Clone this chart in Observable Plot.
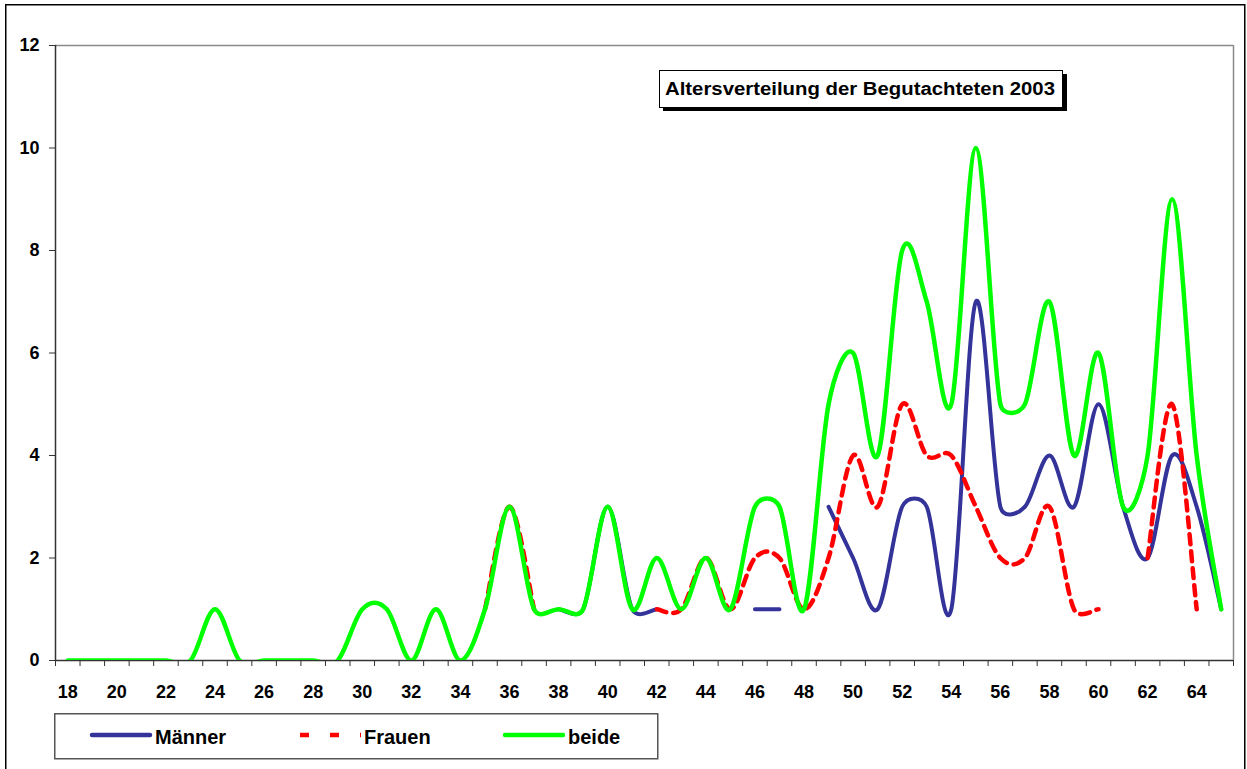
<!DOCTYPE html>
<html>
<head>
<meta charset="utf-8">
<script src="https://cdn.jsdelivr.net/npm/d3@7"></script>
<script src="https://cdn.jsdelivr.net/npm/@observablehq/plot@0.6"></script>
<style>
html,body{margin:0;padding:0;overflow:hidden;background:#fff;width:1247px;height:769px;}
#wrap{position:relative;width:1247px;height:769px;font-family:"Liberation Sans",Arial,sans-serif;}
#chart{position:absolute;left:0;top:0;}
#overlay{position:absolute;left:0;top:0;pointer-events:none;}
</style>
</head>
<body>
<div id="wrap">
  <div id="chart"></div>
  <svg id="overlay" width="1247" height="769" font-family="'Liberation Sans',Arial,sans-serif" font-weight="bold">
    <rect x="5.75" y="4.75" width="1239" height="800" fill="none" stroke="#000" stroke-width="1.5"/>
    <rect x="663" y="74" width="404" height="37" fill="#000"/>
    <rect x="659.5" y="70.5" width="403" height="37" fill="#fff" stroke="#000" stroke-width="1"/>
    <text id="titleText" x="665" y="95" font-size="18" textLength="390" lengthAdjust="spacingAndGlyphs"></text>
    <rect x="54.75" y="713.75" width="603" height="45" fill="#fff" stroke="#555" stroke-width="1.5"/>
    <g id="legendItems"></g>
  </svg>
</div>
<script>
// ---- data ----
const title = "Altersverteilung der Begutachteten 2003";
const ages = [18,19,20,21,22,23,24,25,26,27,28,29,30,31,32,33,34,35,36,37,38,39,40,41,42,43,44,45,46,47,48,49,50,51,52,53,54,55,56,57,58,59,60,61,62,63,64,65];
const maenner = [null,null,null,null,null,null,null,null,null,null,null,null,null,null,null,null,null,null,null,null,1,1,3,1,1,null,null,null,1,1,null,3,2,1,3,3,1,7,3,3,4,3,5,3,2,4,3,1];
const frauen  = [null,null,null,null,null,null,null,null,null,null,null,null,null,null,null,null,null,1,3,1,null,null,null,null,1,1,2,1,2,2,1,2,4,3,5,4,4,3,2,2,3,1,1,null,2,5,1,null];
const beide   = [0,0,0,0,0,0,1,0,0,0,0,0,1,1,0,1,0,1,3,1,1,1,3,1,2,1,2,1,3,3,1,5,6,4,8,7,5,10,5,5,7,4,6,3,4,9,4,1];
const yTicks = [0,2,4,6,8,10,12];
const xLabels = [18,20,22,24,26,28,30,32,34,36,38,40,42,44,46,48,50,52,54,56,58,60,62,64];
const seriesNames = ["Männer","Frauen","beide"];
const seriesColors = ["#333399","#ff0000","#00ff00"];

const data = ages.map((a,i)=>({age:a, m:maenner[i], f:frauen[i], b:beide[i]}));
const boundaries = d3.range(ages[0]-0.5, ages[ages.length-1]+1, 1);

// Spreadsheet-style smoothed line (Bezier with limited control arms), as a d3 curve factory
function arm(pa, pb, d12) {
  const dx = pb[0]-pa[0], dy = pb[1]-pa[1], d = Math.hypot(dx, dy);
  if (!d) return [0, 0];
  const L = Math.min(d/6, d12/2);
  return [dx/d*L, dy/d*L];
}
function SmoothCurve(context) { this._context = context; }
SmoothCurve.prototype = {
  areaStart() {}, areaEnd() {},
  lineStart() { this._pts = []; },
  point(x, y) { this._pts.push([+x, +y]); },
  lineEnd() {
    const p = this._pts, n = p.length, c = this._context;
    if (!n) return;
    c.moveTo(p[0][0], p[0][1]);
    for (let i = 0; i < n-1; i++) {
      const p0 = p[Math.max(i-1,0)], p1 = p[i], p2 = p[i+1], p3 = p[Math.min(i+2,n-1)];
      const d12 = Math.hypot(p2[0]-p1[0], p2[1]-p1[1]);
      const a = arm(p0, p2, d12), b = arm(p1, p3, d12);
      c.bezierCurveTo(p1[0]+a[0], p1[1]+a[1], p2[0]-b[0], p2[1]-b[1], p2[0], p2[1]);
    }
  }
};
const smooth = (ctx) => new SmoothCurve(ctx);

const font = "'Liberation Sans',Arial,sans-serif";
const chart = Plot.plot({
  width:1247, height:769,
  marginLeft:55, marginRight:14, marginTop:45, marginBottom:109,
  x:{domain:[ages[0]-0.5, ages[ages.length-1]+0.5], axis:null},
  y:{domain:[0,12], axis:null},
  style:{fontFamily:font, fontSize:"18px", fontWeight:"bold", color:"#000", background:"transparent", overflow:"visible"},
  marks:[
    Plot.ruleY([12],{stroke:"#8a8a8a", strokeWidth:1.5}),
    Plot.ruleX([ages[ages.length-1]+0.5],{stroke:"#8a8a8a", strokeWidth:1.5}),
    Plot.ruleX([ages[0]-0.5],{stroke:"#333", strokeWidth:1.5}),
    Plot.ruleY([0],{stroke:"#333", strokeWidth:1.5}),
    Plot.axisY({ticks:yTicks, tickSize:6, tickPadding:10, stroke:"#333", strokeOpacity:1, tickFormat:d=>d, fill:"#000", label:null}),
    Plot.axisX({ticks:boundaries, tickSize:6, tickFormat:()=>"", stroke:"#333", strokeOpacity:1, label:null}),
    Plot.axisX({ticks:xLabels, tickSize:0, tickPadding:25, tickFormat:d=>d, fill:"#000", label:null}),
    Plot.line(data,{x:"age", y:"m", curve:smooth, stroke:seriesColors[0], strokeWidth:4, clip:true}),
    Plot.line(data,{x:"age", y:"f", curve:smooth, stroke:seriesColors[1], strokeWidth:4.5, strokeDasharray:"10,7", clip:true}),
    Plot.line(data,{x:"age", y:"b", curve:smooth, stroke:seriesColors[2], strokeWidth:4.5, clip:true})
  ]
});
document.getElementById("chart").appendChild(chart);
document.getElementById("titleText").textContent = title;

// legend
const lg = d3.select("#legendItems");
const keyX = [92, 300, 505];
const dashes = [null, "9,21", null];
seriesNames.forEach((name,i)=>{
  lg.append("line").attr("x1",keyX[i]).attr("x2",keyX[i]+ (i===1?61:58)).attr("y1",735).attr("y2",735)
    .attr("stroke",seriesColors[i]).attr("stroke-width",4.5)
    .attr("stroke-linecap", i===1?"butt":"round")
    .attr("stroke-dasharray", dashes[i]);
  lg.append("text").attr("x",keyX[i]+(i===1?64:63)).attr("y",744).attr("font-size",20).attr("fill","#000").text(name);
});
</script>
</body>
</html>
